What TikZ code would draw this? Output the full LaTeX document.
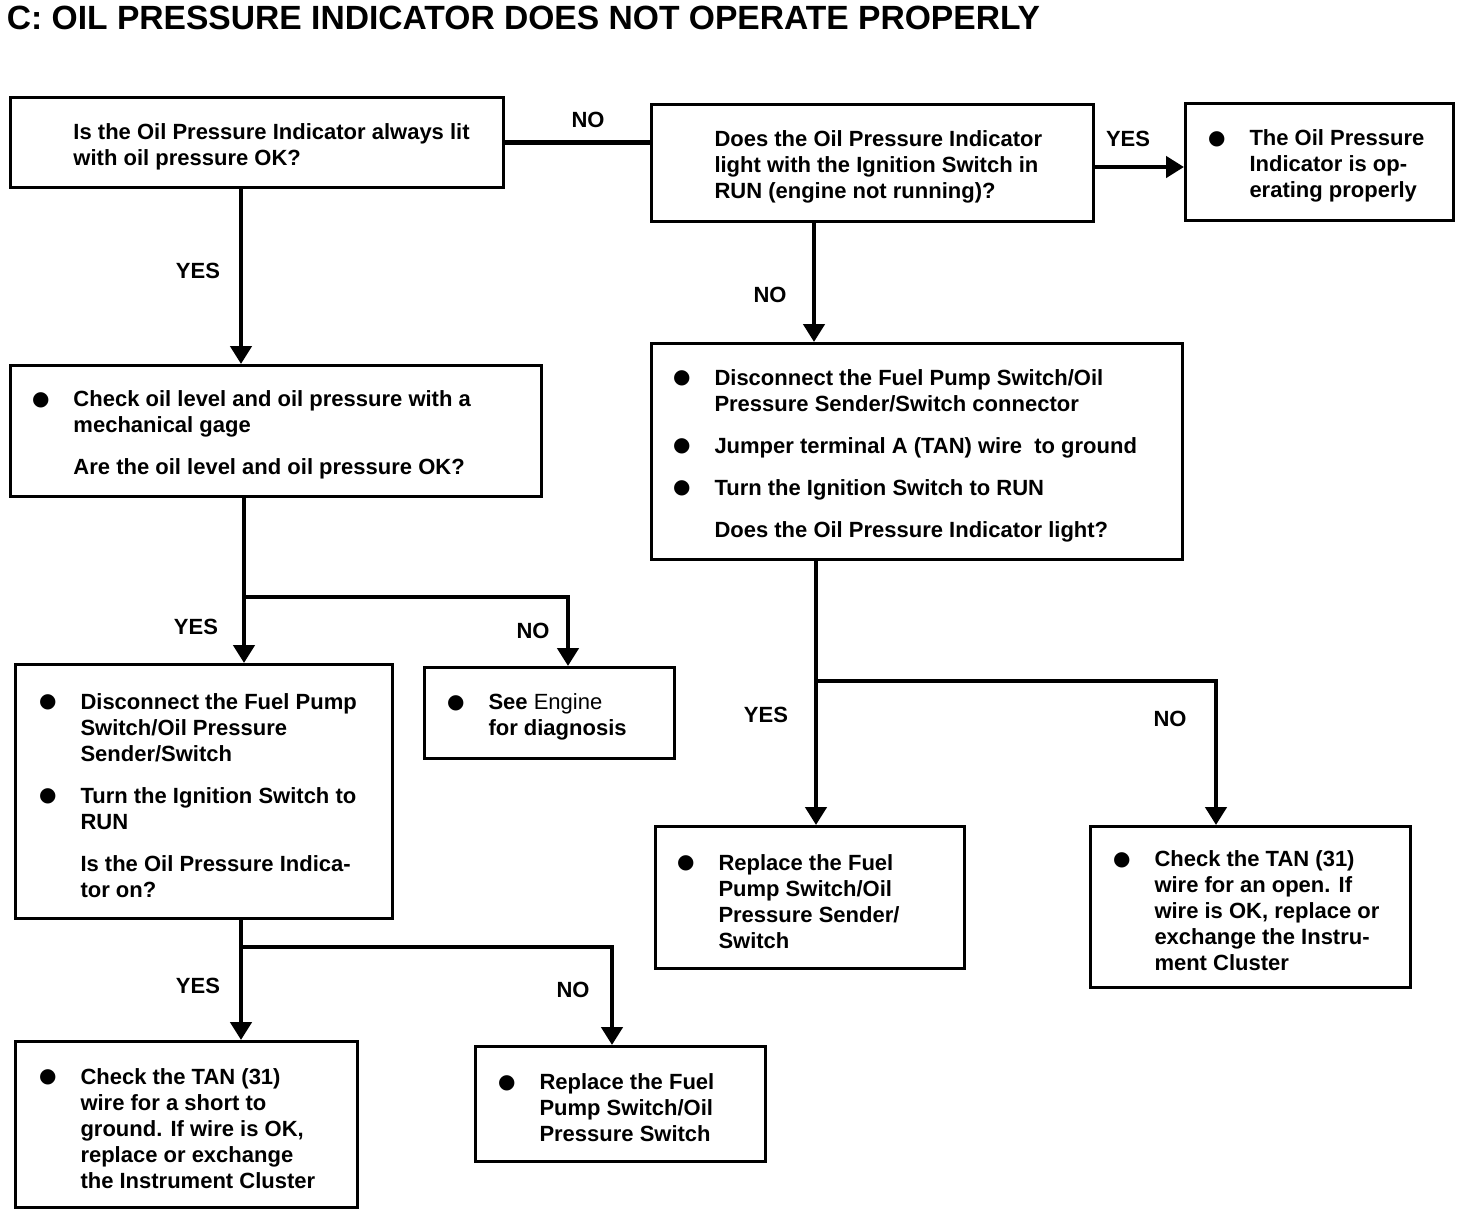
\documentclass[tikz,border=0pt]{standalone}
\usepackage{fontspec}
\setmainfont{Liberation Sans}
\newfontfamily\dejavu{DejaVu Sans}
\usetikzlibrary{arrows.meta}
\newcommand\bl{\leavevmode\llap{\raisebox{0.8pt}{\dejavu\fontsize{10pt}{10pt}\selectfont ●}\hspace{12pt}}}
\newcommand\bx[3]{\makebox[#1][l]{\hspace*{#2}\parbox[c]{240pt}{\vspace*{4pt}\raggedright #3}}}
\begin{document}
\begin{tikzpicture}[x=0.5pt,y=-0.5pt,
  box/.style={draw, line width=1.5pt, inner sep=0pt, anchor=north west,
    font=\fontsize{11pt}{13pt}\selectfont\bfseries},
  lbl/.style={inner sep=0pt, font=\fontsize{11pt}{13pt}\selectfont\bfseries},
  conn/.style={line width=2.4pt, line join=miter},
  arr/.style={conn, -{Triangle[width=10.5pt,length=9pt]}}]
\useasboundingbox (0,0) rectangle (1472,1212);
\node[anchor=base west, inner sep=0pt, font=\fontsize{16.8pt}{20pt}\selectfont\bfseries] (title) at (6.5,29) {C: OIL PRESSURE INDICATOR DOES NOT OPERATE PROPERLY};

\node[box, minimum width=246.5pt, minimum height=45pt] (q1) at (9,96)
  {\bx{246.5pt}{31.5pt}{Is the Oil Pressure Indicator always lit\\with oil pressure OK?}};
\node[box, minimum width=221pt, minimum height=58.5pt] (q2) at (650,103)
  {\bx{221pt}{31.5pt}{Does the Oil Pressure Indicator\\light with the Ignition Switch in\\RUN (engine not running)?}};
\node[box, minimum width=134pt, minimum height=58.5pt] (r1) at (1184,102)
  {\bx{134pt}{32pt}{\bl The Oil Pressure\\Indicator is op-\\erating properly}};
\node[box, minimum width=265.5pt, minimum height=65.5pt] (q3) at (9,364)
  {\bx{265.5pt}{31.5pt}{\bl Check oil level and oil pressure with a\\mechanical gage\\[8pt]Are the oil level and oil pressure OK?}};
\node[box, minimum width=265.5pt, minimum height=108pt] (q4) at (650,342)
  {\bx{265.5pt}{31.5pt}{\bl Disconnect the Fuel Pump Switch/Oil\\Pressure Sender/Switch connector\\[8pt]\bl Jumper terminal A (TAN) wire\ \ to ground\\[8pt]\bl Turn the Ignition Switch to RUN\\[8pt]Does the Oil Pressure Indicator light?}};
\node[box, minimum width=188.5pt, minimum height=127pt] (q5) at (14,663)
  {\bx{188.5pt}{32.5pt}{\bl Disconnect the Fuel Pump\\Switch/Oil Pressure\\Sender/Switch\\[8pt]\bl Turn the Ignition Switch to\\RUN\\[8pt]Is the Oil Pressure Indica-\\tor on?}};
\node[box, minimum width=125pt, minimum height=45.5pt] (eng) at (423,666)
  {\bx{125pt}{32pt}{\bl See {\mdseries Engine}\\for diagnosis}};
\node[box, minimum width=154.5pt, minimum height=71pt] (ry) at (654,825)
  {\bx{154.5pt}{31.5pt}{\bl Replace the Fuel\\Pump Switch/Oil\\Pressure Sender/\\Switch}};
\node[box, minimum width=160pt, minimum height=80.5pt] (rn) at (1089,825)
  {\bx{160pt}{32pt}{\bl Check the TAN (31)\\wire for an open. If\\wire is OK, replace or\\exchange the Instru-\\ment Cluster}};
\node[box, minimum width=171pt, minimum height=83pt] (blk) at (14,1040)
  {\bx{171pt}{32.5pt}{\bl Check the TAN (31)\\wire for a short to\\ground. If wire is OK,\\replace or exchange\\the Instrument Cluster}};
\node[box, minimum width=145pt, minimum height=57.5pt] (bm) at (474,1045)
  {\bx{145pt}{32pt}{\bl Replace the Fuel\\Pump Switch/Oil\\Pressure Switch}};

% connectors
\draw[conn] (q1.east) -- (q1.east -| q2.west);
\coordinate (y1) at (1092,167);
\draw[arr] (y1) -- (y1 -| r1.west);
\coordinate (c1) at (241,186);
\draw[arr] (c1) -- (c1 |- q3.north);
\coordinate (c3) at (814,220);
\draw[arr] (c3) -- (c3 |- q4.north);
\coordinate (c2) at (244,495);
\coordinate (c2b) at (244,597);
\coordinate (e1) at (568,597);
\draw[arr] (c2) -- (c2 |- q5.north);
\draw[arr] (c2b) -- (e1) -- (e1 |- eng.north);
\coordinate (c4) at (816,558);
\coordinate (c4b) at (816,681);
\coordinate (e2) at (1216,681);
\draw[arr] (c4) -- (c4 |- ry.north);
\draw[arr] (c4b) -- (e2) -- (e2 |- rn.north);
\coordinate (c5) at (241,917);
\coordinate (c5b) at (241,947);
\coordinate (e3) at (612,947);
\draw[arr] (c5) -- (c5 |- blk.north);
\draw[arr] (c5b) -- (e3) -- (e3 |- bm.north);

% labels
\node[lbl] (l1) at (588,120) {NO};
\node[lbl] (l2) at (1128,139) {YES};
\node[lbl] (l3) at (198,271) {YES};
\node[lbl] (l4) at (770,295) {NO};
\node[lbl] (l5) at (196,627) {YES};
\node[lbl] (l6) at (533,631) {NO};
\node[lbl] (l7) at (766,715) {YES};
\node[lbl] (l8) at (1170,719) {NO};
\node[lbl] (l9) at (198,986) {YES};
\node[lbl] (l10) at (573,990) {NO};
\end{tikzpicture}
\end{document}
